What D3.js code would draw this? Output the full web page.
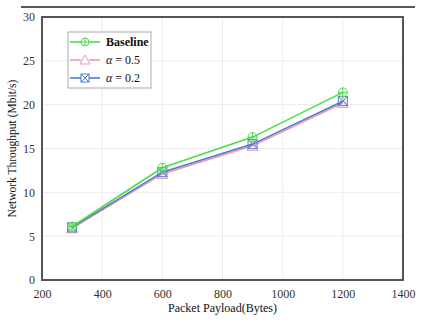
<!DOCTYPE html>
<html>
<head>
<meta charset="utf-8">
<script src="https://cdn.jsdelivr.net/npm/d3@7"></script>
<style>
	body { margin: 0; background: #fff; }
	text { font-family: "Liberation Serif", "DejaVu Serif", serif; }
</style>
</head>
<body>
<svg id="chart"></svg>
<script>
const payload = [300, 600, 900, 1200]
const baseline = [6.1, 12.8, 16.3, 21.4]
const alpha05 = [5.9, 12.1, 15.3, 20.2]
const alpha02 = [6.0, 12.3, 15.5, 20.4]
const xTicks = [200, 400, 600, 800, 1000, 1200, 1400]
const yTicks = [0, 5, 10, 15, 20, 25, 30]

const series = [
	{name: 'Baseline', values: baseline, color: '#4ade4a', marker: 'circle', bold: true},
	{name: 'α = 0.5', values: alpha05, color: '#ef9aa6', marker: 'triangle'},
	{name: 'α = 0.2', values: alpha02, color: '#4f79d6', marker: 'square'}
]

const W = 427, H = 324
const M = {top: 17, right: 24, bottom: 44, left: 42}

const svg = d3.select('#chart').attr('width', W).attr('height', H)

// rule across the top
svg.append('line')
	.attr('x1', 21).attr('x2', 415).attr('y1', 7).attr('y2', 7)
	.attr('stroke', '#222').attr('stroke-width', 1.5)

const x = d3.scaleLinear().domain([200, 1400]).range([M.left, W - M.right])
const y = d3.scaleLinear().domain([0, 30]).range([H - M.bottom, M.top])

const g = svg.append('g')

// grid
g.selectAll('line.gx').data(xTicks.slice(1, -1)).join('line')
	.attr('x1', d => x(d)).attr('x2', d => x(d))
	.attr('y1', y(0)).attr('y2', y(30))
	.attr('stroke', '#ececec').attr('stroke-width', 1)
g.selectAll('line.gy').data(yTicks.slice(1, -1)).join('line')
	.attr('y1', d => y(d)).attr('y2', d => y(d))
	.attr('x1', x(200)).attr('x2', x(1400))
	.attr('stroke', '#ececec').attr('stroke-width', 1)

// axes (labels only, frame drawn separately)
const xAxis = g.append('g')
	.attr('transform', `translate(0, ${y(0)})`)
	.call(d3.axisBottom(x).tickValues(xTicks).tickFormat(d3.format('d')).tickSize(0).tickPadding(9))
const yAxis = g.append('g')
	.attr('transform', `translate(${x(200)}, 0)`)
	.call(d3.axisLeft(y).tickValues(yTicks).tickFormat(d3.format('d')).tickSize(0).tickPadding(7))
for (const ax of [xAxis, yAxis]) {
	ax.select('.domain').remove()
	ax.selectAll('text').attr('font-size', 12).attr('fill', '#333')
		.style('font-family', '"Liberation Serif", serif')
}

// frame
g.append('rect')
	.attr('x', x(200)).attr('y', y(30))
	.attr('width', x(1400) - x(200)).attr('height', y(0) - y(30))
	.attr('fill', 'none').attr('stroke', '#555').attr('stroke-width', 2)

// axis titles
svg.append('text')
	.attr('x', (x(200) + x(1400)) / 2).attr('y', 312)
	.attr('text-anchor', 'middle').attr('font-size', 12).attr('fill', '#111')
	.text('Packet Payload(Bytes)')
svg.append('text')
	.attr('transform', `translate(16, ${(y(0) + y(30)) / 2}) rotate(-90)`)
	.attr('text-anchor', 'middle').attr('font-size', 11.5).attr('fill', '#111')
	.text('Network Throughput (Mbit/s)')

function drawMarker (sel, type, color, r) {
	if (type === 'circle') {
		sel.append('circle').attr('r', r).attr('fill', 'none').attr('stroke', color).attr('stroke-width', 1)
		sel.append('path').attr('d', `M${-r},0H${r}M0,${-r}V${r}`).attr('stroke', color).attr('stroke-width', 1)
	} else if (type === 'triangle') {
		sel.append('path').attr('d', `M0,${-r - 1}L${r + 1},${r}H${-r - 1}Z`)
			.attr('fill', 'none').attr('stroke', color).attr('stroke-width', 1)
	} else {
		sel.append('rect').attr('x', -r).attr('y', -r).attr('width', 2 * r).attr('height', 2 * r)
			.attr('fill', 'none').attr('stroke', color).attr('stroke-width', 1)
		sel.append('path').attr('d', `M${-r},${-r}L${r},${r}M${r},${-r}L${-r},${r}`)
			.attr('stroke', color).attr('stroke-width', 1)
	}
}

const line = d3.line().x(d => x(d[0])).y(d => y(d[1]))

// draw pink first, then blue, then green on top
for (const s of [series[1], series[2], series[0]]) {
	const pts = payload.map((p, i) => [p, s.values[i]])
	g.append('path').datum(pts)
		.attr('d', line).attr('fill', 'none')
		.attr('stroke', s.color).attr('stroke-width', 1.6)
	g.selectAll(null).data(pts).join('g')
		.attr('transform', d => `translate(${x(d[0])}, ${y(d[1])})`)
		.each(function () { drawMarker(d3.select(this), s.marker, s.color, 4.5) })
}

// legend
const lg = svg.append('g').attr('transform', 'translate(68, 32)')
lg.append('rect').attr('width', 83).attr('height', 56)
	.attr('fill', '#fff').attr('stroke', '#aaa').attr('stroke-width', 1)
series.forEach((s, i) => {
	const row = lg.append('g').attr('transform', `translate(0, ${10 + i * 18})`)
	row.append('line').attr('x1', 2).attr('x2', 32).attr('stroke', s.color).attr('stroke-width', 1.6)
	const mk = row.append('g').attr('transform', 'translate(17, 0)')
	mk.append('rect').attr('x', -4).attr('y', -4).attr('width', 8).attr('height', 8).attr('fill', '#fff')
	drawMarker(mk, s.marker, s.color, 4)
	const t = row.append('text').attr('x', 38).attr('y', 4).attr('font-size', 12).attr('fill', '#111')
	if (s.bold) {
		t.attr('font-weight', 'bold').text(s.name)
	} else {
		t.append('tspan').attr('font-style', 'italic').text('α')
		t.append('tspan').text(s.name.slice(1))
	}
})
</script>
</body>
</html>
